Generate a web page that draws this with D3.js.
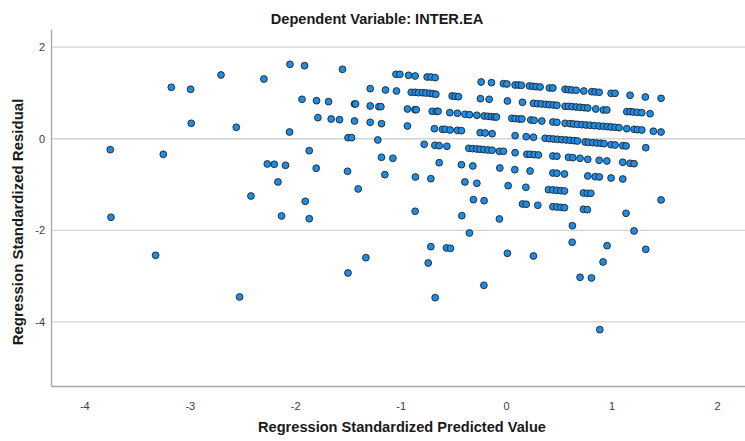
<!DOCTYPE html>
<html>
<head>
<meta charset="utf-8">
<script src="https://cdn.jsdelivr.net/npm/d3@7"></script>
<style>
  html, body { margin: 0; padding: 0; background: #ffffff; }
  svg { display: block; font-family: Arial, "Liberation Sans", sans-serif; }
</style>
</head>
<body>
<svg id="chart" width="745" height="441"></svg>
<script>
// Residual scatter: standardized predicted value (x) vs standardized residual (y)
const chartTitle = "Dependent Variable: INTER.EA";
const xAxisTitle = "Regression Standardized Predicted Value";
const yAxisTitle = "Regression Standardized Residual";

const xTicks = [-4, -3, -2, -1, 0, 1, 2];
const yTicks = [2, 0, -2, -4];

// Predicted values (x), one per case
const predicted = [
  -3.754, -3.747, -3.175, -2.992, -3.251, -3.324, -2.986, -2.704, -2.559, -2.528,
  -2.420, -2.297, -2.265, -2.199, -2.092, -2.164, -2.130, -2.054, -2.050, -1.912,
  -1.936, -1.552, -1.798, -1.684, -1.438, -1.428, -1.289, -1.144, -1.040, -1.045,
  -1.008, -0.926, -0.863, -0.749, -0.714, -0.673, -1.289, -1.207, -1.188,
  -0.900, -0.863, -0.831, -0.793, -0.761, -0.723, -0.695, -0.667,
  -0.512, -0.483, -0.452, -0.244, -0.161, -0.237, -0.139,
  -0.936, -0.865, -0.853, -0.701, -0.661, -0.645, -0.534, -0.462, -0.391, -0.348, -0.278,
  -0.209, -0.173, -0.139, -0.111, -0.092,
  -1.785, -1.659, -1.580, -1.438, -1.289, -1.182, -0.936, -0.680,
  -0.604, -0.578, -0.531, -0.462, -0.424, -0.246, -0.199, -0.133,
  -1.500, -1.466, -1.217, -0.777, -0.676, -0.635, -0.562,
  -0.354, -0.316, -0.278, -0.246, -0.211, -0.171, -0.133, -0.064, -0.026,
  -1.867, -1.182, -1.074, -1.801, -1.504, -1.150, -0.860, -0.714,
  -0.635, -0.424, -0.316, -0.060, -1.403, -0.391, -0.278, 0.019,
  -1.905, -0.310, -0.209, -0.863, -1.867, -0.420, -0.064, -0.348,
  -0.714, -0.566, -0.528, 0.012, -1.330, -0.739, -1.500, -0.211, -0.673,
  // upper band
  -0.026, 0.007, 0.085, 0.117, 0.145, 0.221, 0.253, 0.284, 0.322, 0.410, 0.443,
  0.559, 0.591, 0.623, 0.664, 0.736, 0.812, 0.844, 0.882, 0.995, 1.033, 1.175, 1.320, 1.469,
  // second band
  0.012, 0.155, 0.259, 0.297, 0.335, 0.376, 0.410, 0.448, 0.481,
  0.559, 0.591, 0.626, 0.664, 0.701, 0.739, 0.774, 0.850, 0.922, 0.955,
  1.144, 1.175, 1.206, 1.244, 1.286, 1.365,
  // third band
  0.054, 0.085, 0.123, 0.149, 0.234, 0.265, 0.338, 0.443, 0.481,
  0.559, 0.607, 0.638, 0.676, 0.718, 0.758, 0.796, 0.837, 0.882, 0.922, 0.960, 0.995, 1.033, 1.071,
  1.144, 1.213, 1.244, 1.286, 1.396, 1.469,
  // fourth band
  0.085, 0.190, 0.259, 0.370, 0.410, 0.448, 0.486, 0.528, 0.569, 0.607, 0.645, 0.676,
  0.749, 0.780, 0.822, 0.860, 0.898, 0.929, 0.995, 1.033, 1.106, 1.137, 1.324,
  // fifth band
  0.085, 0.196, 0.227, 0.268, 0.306, 0.443, 0.481, 0.591, 0.632, 0.701, 0.774,
  0.882, 0.955, 1.106, 1.175, 1.213,
  // sixth band
  0.082, 0.227, 0.443, 0.481, 0.553, 0.774, 0.844, 0.884, 0.995, 1.106,
  // seventh band
  0.187, 0.401, 0.443, 0.481, 0.518, 0.553, 0.733, 0.770, 0.803, 1.469,
  // eighth band
  0.155, 0.190, 0.300, 0.443, 0.481, 0.518, 0.553, 0.733, 0.770, 1.137,
  // scattered lower cases
  0.628, 1.213, 0.626, 0.957, 1.324, 0.259, 0.919, 0.701, 0.809, 0.888
];

// Standardized residuals (y), same order as predicted
const residual = [
  -0.240, -1.716, 1.122, 1.079, -0.341, -2.546, 0.336, 1.391, 0.249, -3.456,
  -1.251, 1.303, -0.552, -0.559, -0.581, -0.945, -1.688, 0.146, 1.624, 1.594,
  0.860, 1.515, 0.830, 0.808, 0.758, 0.758, 1.092, 1.063, 1.041, 1.406,
  1.406, 1.384, 1.369, 1.347, 1.347, 1.332, 0.714, 0.699, 0.699,
  1.013, 1.013, 1.004, 1.004, 0.998, 0.991, 0.983, 0.970,
  0.932, 0.926, 0.917, 0.873, 0.860, 1.238, 1.223,
  0.648, 0.633, 0.633, 0.598, 0.598, 0.598, 0.568, 0.555, 0.533, 0.524, 0.511,
  0.496, 0.489, 0.480, 0.474, 0.474,
  0.459, 0.430, 0.415, 0.386, 0.358, 0.328, 0.277, 0.218,
  0.205, 0.205, 0.190, 0.183, 0.175, 0.131, 0.124, 0.109,
  0.022, 0.022, -0.028, -0.122, -0.144, -0.153, -0.166,
  -0.210, -0.218, -0.225, -0.231, -0.240, -0.247, -0.253, -0.275, -0.275,
  -0.262, -0.406, -0.428, -0.646, -0.712, -0.786, -0.836, -0.873,
  -0.524, -0.568, -0.596, -0.640, -1.098, -0.945, -0.974, -1.026,
  -1.367, -1.332, -1.354, -1.585, -1.747, -1.681, -1.753, -2.059,
  -2.358, -2.386, -2.393, -2.502, -2.598, -2.714, -2.932, -3.201, -3.472,
  // upper band
  1.201, 1.194, 1.172, 1.172, 1.166, 1.151, 1.144, 1.135, 1.129, 1.107, 1.107,
  1.079, 1.070, 1.063, 1.057, 1.041, 1.026, 1.020, 1.013, 0.991, 0.991, 0.948, 0.910, 0.882,
  // second band
  0.823, 0.795, 0.773, 0.764, 0.758, 0.751, 0.742, 0.736, 0.729,
  0.707, 0.707, 0.699, 0.692, 0.686, 0.677, 0.670, 0.648, 0.627, 0.627,
  0.590, 0.590, 0.583, 0.576, 0.568, 0.546,
  // third band
  0.445, 0.437, 0.430, 0.430, 0.408, 0.402, 0.386, 0.365, 0.358,
  0.336, 0.328, 0.321, 0.314, 0.306, 0.299, 0.293, 0.284, 0.277, 0.271, 0.262, 0.255, 0.249, 0.240,
  0.218, 0.205, 0.197, 0.190, 0.162, 0.146,
  // fourth band
  0.066, 0.044, 0.031, 0.009, 0.000, -0.007, -0.013, -0.022, -0.028, -0.035, -0.044, -0.050,
  -0.072, -0.079, -0.087, -0.094, -0.100, -0.109, -0.131, -0.138, -0.153, -0.159, -0.197,
  // fifth band
  -0.306, -0.341, -0.341, -0.349, -0.356, -0.378, -0.384, -0.406, -0.415, -0.428, -0.450,
  -0.472, -0.487, -0.515, -0.537, -0.546,
  // sixth band
  -0.677, -0.705, -0.749, -0.755, -0.771, -0.814, -0.830, -0.836, -0.858, -0.880,
  // seventh band
  -1.061, -1.114, -1.120, -1.127, -1.135, -1.142, -1.186, -1.192, -1.192, -1.338,
  // eighth band
  -1.426, -1.432, -1.454, -1.485, -1.491, -1.498, -1.507, -1.541, -1.550, -1.629,
  // scattered lower cases
  -1.900, -2.015, -2.262, -2.336, -2.415, -2.561, -2.692, -3.026, -3.041, -4.170
];

const points = predicted.map((x, i) => ({ x, y: residual[i] }));

const svg = d3.select("#chart");
const margin = { left: 51, right: 0, top: 29, bottom: 55 };
const width = 745, height = 441;

const x = d3.scaleLinear().domain([-4.316, 2.265]).range([margin.left, width - margin.right]);
const y = d3.scaleLinear().domain([-5.40, 2.395]).range([height - margin.bottom, margin.top]);

// plain hyphen-minus labels
const tickLabel = d => String(d);

// horizontal grid lines
svg.append("g")
  .selectAll("line")
  .data(yTicks)
  .join("line")
  .attr("x1", margin.left)
  .attr("x2", width - margin.right)
  .attr("y1", d => y(d))
  .attr("y2", d => y(d))
  .attr("stroke", d => d === 0 ? "#d4d4d4" : "#c8c8c8")
  .attr("stroke-width", d => d === 0 ? 1.6 : 1);

// y axis
const yAxis = svg.append("g")
  .attr("transform", `translate(${margin.left},0)`)
  .call(d3.axisLeft(y).tickValues(yTicks).tickSize(0).tickPadding(6).tickFormat(tickLabel));
yAxis.select(".domain").attr("stroke", "#a6a6a6").attr("stroke-width", 1.3);
yAxis.selectAll("text").attr("font-size", 11).attr("fill", "#404040");

// x axis
const xAxis = svg.append("g")
  .attr("transform", `translate(0,${height - margin.bottom})`)
  .call(d3.axisBottom(x).tickValues(xTicks).tickSize(0).tickPadding(16).tickFormat(tickLabel));
xAxis.select(".domain").attr("stroke", "#a6a6a6").attr("stroke-width", 1.6);
xAxis.selectAll("text").attr("font-size", 11).attr("fill", "#404040");

// scatter points
svg.append("g")
  .selectAll("circle")
  .data(points)
  .join("circle")
  .attr("cx", d => x(d.x))
  .attr("cy", d => y(d.y))
  .attr("r", 3.4)
  .attr("fill", "#1f8ce3")
  .attr("stroke", "#1b2530")
  .attr("stroke-width", 0.9);

// titles
svg.append("text")
  .attr("x", 377).attr("y", 24)
  .attr("text-anchor", "middle")
  .attr("font-size", 14.6).attr("font-weight", "bold").attr("fill", "#1a1a1a")
  .text(chartTitle);

svg.append("text")
  .attr("x", 402).attr("y", 432)
  .attr("text-anchor", "middle")
  .attr("font-size", 14.6).attr("font-weight", "bold").attr("fill", "#1a1a1a")
  .text(xAxisTitle);

svg.append("text")
  .attr("transform", "translate(23,222) rotate(-90)")
  .attr("text-anchor", "middle")
  .attr("font-size", 15).attr("font-weight", "bold").attr("fill", "#1a1a1a")
  .text(yAxisTitle);
</script>
</body>
</html>
